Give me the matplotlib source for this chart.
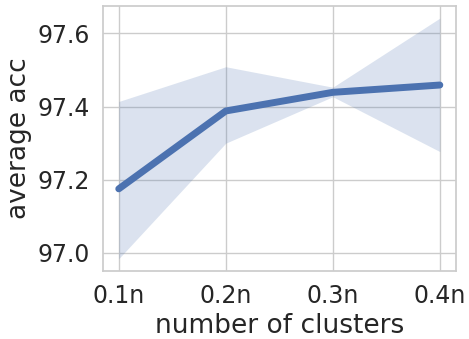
import matplotlib
matplotlib.use("Agg")
import matplotlib.pyplot as plt
import seaborn as sns

# values
x_labels = ["0.1n", "0.2n", "0.3n", "0.4n"]
mean_acc = [97.175, 97.388, 97.439, 97.459]
upper_acc = [97.414, 97.509, 97.453, 97.642]
lower_acc = [96.984, 97.300, 97.427, 97.277]

sns.set_theme(style="whitegrid")
plt.rcParams['font.family'] = ['DejaVu Sans']

fig = plt.figure(figsize=(4.69, 3.39), dpi=100)
ax = fig.add_axes([0.219, 0.2015, 0.753, 0.7805])

xs = list(range(len(x_labels)))
color = "#4C72B0"
ax.fill_between(xs, lower_acc, upper_acc, color=color, alpha=0.2, linewidth=0)
ax.plot(xs, mean_acc, color=color, linewidth=5)

ax.set_xticks(xs)
ax.set_xticklabels(x_labels)
ax.set_yticks([97.0, 97.2, 97.4, 97.6])
ax.tick_params(labelsize=17)
ax.set_xlabel("number of clusters", fontsize=19)
ax.set_ylabel("average acc", fontsize=19)

fig.savefig("out.png", dpi=100)
